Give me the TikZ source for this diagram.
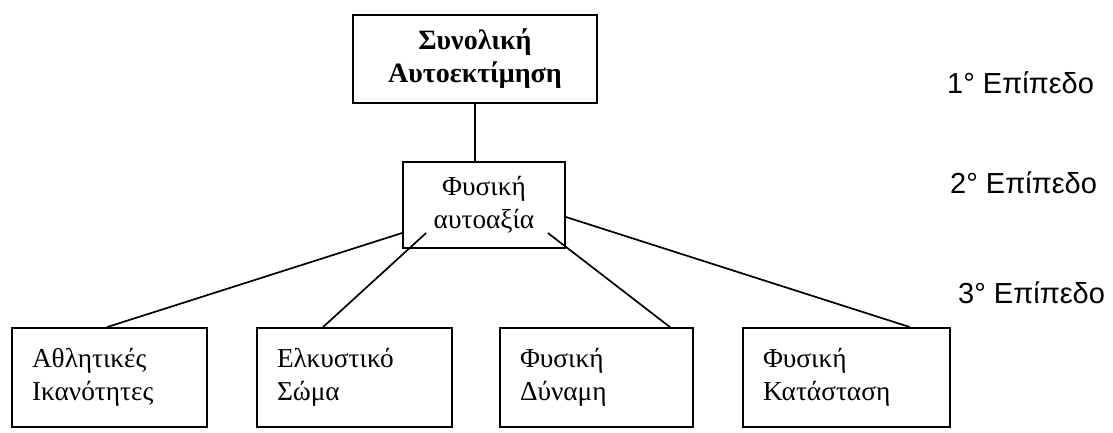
\documentclass[tikz,border=0pt]{standalone}
\usepackage{fontspec}
\setmainfont{Liberation Serif}
\newfontfamily\levelfont{Liberation Sans}
\usetikzlibrary{calc}
\begin{document}
\begin{tikzpicture}[x=1pt,y=-1pt,
  box/.style={draw, line width=1.8pt, inner sep=0pt, font=\fontsize{27.3}{32.5}\selectfont},
  leaf/.style={box, minimum height=99pt, inner xsep=20pt, align=left},
  conn/.style={line width=1.7pt},
  lvl/.style={font=\levelfont\fontsize{29}{30}\selectfont, anchor=base west, inner sep=0pt}]
\useasboundingbox (0,0) rectangle (1113,432);
\node[box, minimum width=244pt, minimum height=88pt, align=center, font=\fontsize{28}{33}\selectfont\bfseries] (top) at (475,59) {Συνολική\\Αυτοεκτίμηση};
\node[box, minimum width=162pt, minimum height=86pt, align=center] (mid) at (484,205) {Φυσική\\αυτοαξία};
\node[leaf, text width=155pt] (b1) at (109.5,377.5) {Αθλητικές\\Ικανότητες};
\node[leaf, text width=155pt] (b2) at (354.5,377.5) {Ελκυστικό\\Σώμα};
\node[leaf, text width=153pt] (b3) at (596.5,377.5) {Φυσική\\Δύναμη};
\node[leaf, text width=167pt] (b4) at (846.5,377.5) {Φυσική\\Κατάσταση};
\coordinate (m1) at ($(mid.west)+(0,28)$);
\coordinate (m2) at ($(mid.west)+(24,28)$);
\coordinate (m3) at ($(mid.east)+(-18,28)$);
\coordinate (m4) at ($(mid.east)+(0,12)$);
\draw[conn] (top.south) -- (top.south |- mid.north);
\draw[conn] ($(b1.north)+(-2.5,0)$) -- (m1);
\draw[conn] ($(b2.north)+(-31.5,0)$) -- (m2);
\draw[conn] ($(b3.north)+(73.5,0)$) -- (m3);
\draw[conn] ($(b4.north)+(63.5,0)$) -- (m4);
\node[lvl] (l1) at (947,93) {1° Επίπεδο};
\node[lvl] (l2) at (950,193) {2° Επίπεδο};
\node[lvl] (l3) at (958,303) {3° Επίπεδο};
\end{tikzpicture}
\end{document}
